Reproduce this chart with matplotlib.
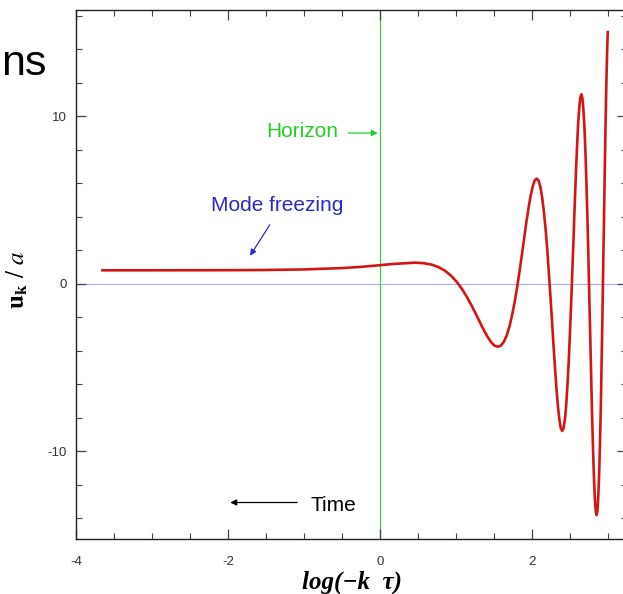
import matplotlib
matplotlib.use("Agg")
import matplotlib.pyplot as plt
from matplotlib.ticker import MultipleLocator, FixedLocator

plt.rcParams['axes.unicode_minus'] = False
plt.rcParams['mathtext.fontset'] = 'stix'

# Curve: x = log(-k tau), y = u_k / a
x_vals = [-3.67, -3.00, -2.00, -1.50, -1.00, -0.50, -0.25, 0.00, 0.164,
          0.452, 0.569, 0.675, 0.770, 0.857, 0.937, 1.011, 1.080, 1.145,
          1.205, 1.263, 1.317, 1.368, 1.417, 1.463, 1.508, 1.550, 1.591,
          1.630, 1.668, 1.704, 1.739, 1.773, 1.806, 1.838, 1.869, 1.899,
          1.927, 1.956, 1.983, 2.010, 2.036, 2.061, 2.086, 2.110, 2.133,
          2.156, 2.179, 2.201, 2.222, 2.243, 2.264, 2.284, 2.304, 2.323,
          2.342, 2.361, 2.379, 2.397, 2.415, 2.433, 2.450, 2.466, 2.483,
          2.499, 2.515, 2.531, 2.547, 2.562, 2.577, 2.592, 2.606, 2.621,
          2.635, 2.649, 2.663, 2.676, 2.690, 2.703, 2.716, 2.729, 2.742,
          2.754, 2.767, 2.779, 2.791, 2.803, 2.815, 2.826, 2.838, 2.849,
          2.861, 2.872, 2.883, 2.894, 2.905, 2.915, 2.926, 2.936, 2.947,
          2.957, 2.967, 2.977, 2.987, 2.997]
y_vals = [0.80, 0.801, 0.807, 0.820, 0.852, 0.934, 1.007, 1.105, 1.177,
          1.257, 1.230, 1.145, 0.992, 0.767, 0.469, 0.102, -0.325, -0.800,
          -1.306, -1.821, -2.323, -2.787, -3.187, -3.499, -3.700, -3.770, -3.695,
          -3.467, -3.082, -2.544, -1.866, -1.064, -0.165, 0.800, 1.796, 2.783,
          3.720, 4.564, 5.277, 5.821, 6.165, 6.283, 6.160, 5.789, 5.172,
          4.321, 3.262, 2.026, 0.656, -0.800, -2.286, -3.745, -5.116, -6.341,
          -7.367, -8.143, -8.630, -8.796, -8.626, -8.111, -7.262, -6.099, -4.658,
          -2.988, -1.146, 0.800, 2.777, 4.707, 6.512, 8.119, 9.457, 10.465,
          11.095, 11.310, 11.091, 10.433, 9.351, 7.876, 6.055, 3.950, 1.636,
          -0.800, -3.267, -5.668, -7.909, -9.896, -11.546, -12.787, -13.560, -13.823,
          -13.556, -12.755, -11.441, -9.653, -7.451, -4.912, -2.127, 0.800, 3.757,
          6.630, 9.305, 11.673, 13.636, 15.11]

x_tick_major = [-4, -2, 0, 2]
x_tick_labels = ['-4', '-2', '0', '2']
y_tick_major = [-10, 0, 10]
y_tick_labels = ['-10', '0', '10']
horizon_x = 0

W, H = 623, 594
fig = plt.figure(figsize=(W / 100, H / 100), dpi=100)
left_px, right_px, top_px, bottom_px = 76, 627, 10, 539
ax = fig.add_axes([left_px / W, 1 - bottom_px / H,
                   (right_px - left_px) / W, (bottom_px - top_px) / H])
ax.set_xlim(-4, 3.25)
ax.set_ylim(-15.25, 16.35)

ax.axhline(0, color='#a9aef5', lw=0.8, zorder=1)
ax.axvline(horizon_x, color='#44cc44', lw=0.9, zorder=1)
ax.plot(x_vals, y_vals, color='#d41515', lw=1.9, zorder=3,
        solid_joinstyle='round', solid_capstyle='butt')

ax.xaxis.set_major_locator(FixedLocator(x_tick_major))
ax.set_xticklabels(x_tick_labels)
ax.xaxis.set_minor_locator(MultipleLocator(0.5))
ax.yaxis.set_major_locator(FixedLocator(y_tick_major))
ax.set_yticklabels(y_tick_labels)
ax.yaxis.set_minor_locator(MultipleLocator(2))

for s in ax.spines.values():
    s.set_color('#222222')
    s.set_linewidth(1.0)

ax.tick_params(axis='both', which='both', direction='in', top=True, right=True,
               colors='#444444', labelcolor='#333333', labelsize=9.5)
ax.tick_params(axis='both', which='major', length=7.5, width=0.9)
ax.tick_params(axis='both', which='minor', length=4.5, width=0.8)
ax.tick_params(axis='x', which='major', pad=12.5)
ax.tick_params(axis='y', which='major', pad=6.5)
for lab in ax.get_xticklabels() + ax.get_yticklabels():
    lab.set_fontfamily('Liberation Sans')

ax.set_xlabel('log(−k  τ)', fontfamily='Liberation Serif', fontstyle='italic',
              fontweight='bold', fontsize=18)
ax.xaxis.set_label_coords(0.5, -0.06)
ax.set_ylabel(r'$\mathbf{u}_{\mathbf{k}}\ /\ \mathit{a}$', fontsize=18)
ax.yaxis.set_label_coords(-0.083, 0.49)

# annotations
ax.text(-0.55, 9.07, 'Horizon', color='#22d022', fontsize=15,
        fontfamily='Liberation Sans', ha='right', va='center')
ax.annotate('', xy=(-0.03, 9.0), xytext=(-0.42, 9.0),
            arrowprops=dict(arrowstyle='-|>', color='#22d022', lw=0.9,
                            mutation_scale=9, shrinkA=0, shrinkB=0))
ax.text(-2.22, 4.7, 'Mode freezing', color='#2a2ac8', fontsize=15,
        fontfamily='Liberation Sans', ha='left', va='center')
ax.annotate('', xy=(-1.71, 1.67), xytext=(-1.45, 3.52),
            arrowprops=dict(arrowstyle='-|>', color='#2a2ac8', lw=0.9,
                            mutation_scale=9, shrinkA=0, shrinkB=0))
ax.text(-0.92, -13.25, 'Time', color='black', fontsize=15,
        fontfamily='Liberation Sans', ha='left', va='center')
ax.annotate('', xy=(-1.97, -13.07), xytext=(-1.09, -13.07),
            arrowprops=dict(arrowstyle='-|>', color='black', lw=0.9,
                            mutation_scale=9, shrinkA=0, shrinkB=0))

fig.text(1 / W, 1 - 75 / H, 'ns', fontsize=31, fontfamily='Liberation Sans',
         ha='left', va='baseline', color='black')

fig.savefig('out.png', dpi=100)
